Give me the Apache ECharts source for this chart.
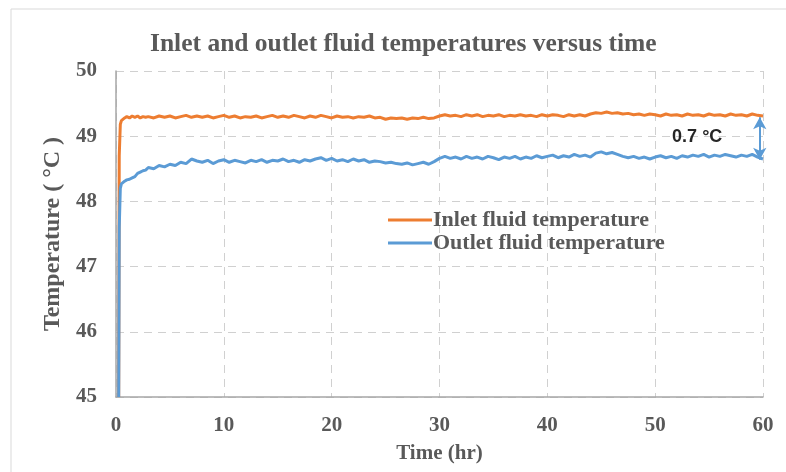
<!DOCTYPE html>
<html>
<head>
<meta charset="utf-8">
<script src="https://cdn.jsdelivr.net/npm/echarts@6/dist/echarts.min.js"></script>
<style>
html,body{margin:0;padding:0;background:#fff;}
#c{width:786px;height:472px;}
</style>
</head>
<body>
<div id="c"></div>
<script>
// ---- data ----
const titleText = 'Inlet and outlet fluid temperatures versus time';
const seriesNames = ['Inlet fluid temperature', 'Outlet fluid temperature'];
const xTicks = [0, 10, 20, 30, 40, 50, 60];
const yTicks = [45, 46, 47, 48, 49, 50];

const timeHr = [
  0.25, 0.3, 0.4, 0.5, 0.6, 0.8, 1.0, 1.25, 1.5, 1.75, 2.0, 2.25, 2.5, 2.75,
  3.0, 3.5, 4.0, 4.5, 5.0, 5.5, 6.0, 6.5, 7.0, 7.5,
  8.0, 8.5, 9.0, 9.5, 10.0, 10.5, 11.0, 11.5, 12.0, 12.5,
  13.0, 13.5, 14.0, 14.5, 15.0, 15.5, 16.0, 16.5, 17.0, 17.5,
  18.0, 18.5, 19.0, 19.5, 20.0, 20.5, 21.0, 21.5, 22.0, 22.5,
  23.0, 23.5, 24.0, 24.5, 25.0, 25.5, 26.0, 26.5, 27.0, 27.5,
  28.0, 28.5, 29.0, 29.5, 30.0, 30.5, 31.0, 31.5, 32.0, 32.5,
  33.0, 33.5, 34.0, 34.5, 35.0, 35.5, 36.0, 36.5, 37.0, 37.5,
  38.0, 38.5, 39.0, 39.5, 40.0, 40.5, 41.0, 41.5, 42.0, 42.5,
  43.0, 43.5, 44.0, 44.5, 45.0, 45.5, 46.0, 46.5, 47.0, 47.5,
  48.0, 48.5, 49.0, 49.5, 50.0, 50.5, 51.0, 51.5, 52.0, 52.5,
  53.0, 53.5, 54.0, 54.5, 55.0, 55.5, 56.0, 56.5, 57.0, 57.5,
  58.0, 58.5, 59.0, 59.5, 60.0
];

const inletTemp = [
  45.0, 48.7, 49.18, 49.24, 49.26, 49.28, 49.30, 49.28, 49.31, 49.29, 49.31, 49.28, 49.30, 49.29,
  49.30, 49.28, 49.31, 49.29, 49.31, 49.28, 49.30, 49.32, 49.29, 49.31,
  49.29, 49.31, 49.28, 49.30, 49.32, 49.29, 49.31, 49.28, 49.30, 49.29,
  49.31, 49.28, 49.30, 49.32, 49.29, 49.31, 49.29, 49.32, 49.30, 49.28,
  49.31, 49.29, 49.32, 49.30, 49.28, 49.31, 49.29, 49.30, 49.28, 49.30,
  49.29, 49.31, 49.28, 49.29, 49.26, 49.28, 49.27, 49.28, 49.26, 49.28,
  49.27, 49.29, 49.27, 49.28, 49.31, 49.33, 49.31, 49.32, 49.30, 49.33,
  49.31, 49.33, 49.30, 49.32, 49.31, 49.33, 49.30, 49.32, 49.31, 49.33,
  49.31, 49.32, 49.30, 49.33, 49.31, 49.33, 49.32, 49.30, 49.33, 49.31,
  49.33, 49.31, 49.34, 49.36, 49.35, 49.37, 49.35, 49.36, 49.34, 49.35,
  49.33, 49.34, 49.32, 49.34, 49.33, 49.31, 49.34, 49.32, 49.33, 49.31,
  49.34, 49.32, 49.33, 49.31, 49.34, 49.32, 49.33, 49.31, 49.34, 49.32,
  49.33, 49.31, 49.34, 49.32, 49.31
];

const outletTemp = [
  45.0, 47.6, 48.20, 48.27, 48.30, 48.31, 48.33, 48.34, 48.36, 48.38, 48.43, 48.45, 48.47, 48.48,
  48.52, 48.50, 48.55, 48.53, 48.57, 48.55, 48.60, 48.58, 48.65, 48.62,
  48.60, 48.63, 48.58, 48.62, 48.64, 48.60, 48.63, 48.61, 48.59, 48.63,
  48.61, 48.64, 48.60, 48.63, 48.62, 48.65, 48.61, 48.63, 48.60, 48.64,
  48.62, 48.65, 48.67, 48.63, 48.66, 48.62, 48.64, 48.61, 48.65, 48.62,
  48.64, 48.60, 48.62, 48.61, 48.59, 48.60, 48.58, 48.57, 48.59, 48.56,
  48.58, 48.60, 48.57, 48.61, 48.66, 48.69, 48.66, 48.68, 48.65, 48.69,
  48.66, 48.68, 48.65, 48.69, 48.67, 48.64, 48.68, 48.66, 48.69, 48.65,
  48.68, 48.66, 48.70, 48.67, 48.69, 48.71, 48.67, 48.70, 48.68, 48.72,
  48.69, 48.71, 48.68, 48.74, 48.76, 48.73, 48.75, 48.72, 48.69, 48.67,
  48.69, 48.66, 48.68, 48.65, 48.68, 48.70, 48.67, 48.69, 48.66, 48.70,
  48.68, 48.71, 48.69, 48.72, 48.68, 48.71, 48.69, 48.72, 48.70, 48.68,
  48.71, 48.69, 48.72, 48.68, 48.65
];

// annotation (difference arrow and label)
const diffArrowTime = 59.7;
const diffArrowRange = [49.29, 48.64];
const diffLabelText = '0.7 °C';
const diffLabelPos = [53.9, 48.99];

// ---- chart ----
const chart = echarts.init(document.getElementById('c'), null, {renderer: 'canvas'});

const serif = '"Liberation Serif", "Times New Roman", serif';
const textGray = '#595959';

function pairs(xs, ys) { return xs.map((x, i) => [x, ys[i]]); }

const option = {
  backgroundColor: '#ffffff',
  animation: false,
  title: {
    text: titleText,
    left: 145,
    top: 26,
    textStyle: {fontFamily: serif, fontWeight: 'bold', fontSize: 25.5, color: textGray}
  },
  legend: {
    orient: 'vertical',
    left: 383,
    top: 204,
    itemWidth: 44,
    itemHeight: 3,
    itemGap: 1,
    icon: 'rect',
    textStyle: {fontFamily: serif, fontWeight: 'bold', fontSize: 22, color: textGray, padding: [0, 0, 0, -4]},
    data: seriesNames
  },
  graphic: [{
    type: 'rect',
    shape: {x: 11, y: 9, width: 900, height: 600},
    style: {fill: 'none', stroke: '#D9D9D9', lineWidth: 1},
    silent: true,
    z: -10
  }],
  grid: {left: 116, right: 23, top: 71, bottom: 75, containLabel: false},
  xAxis: {
    type: 'value',
    min: xTicks[0],
    max: xTicks[xTicks.length - 1],
    interval: 10,
    name: 'Time (hr)',
    nameLocation: 'middle',
    nameGap: 46,
    nameTextStyle: {fontFamily: serif, fontWeight: 'bold', fontSize: 21, color: textGray},
    axisLine: {show: true, lineStyle: {color: '#A6A6A6', width: 1.5}},
    axisTick: {show: false},
    axisLabel: {fontFamily: serif, fontWeight: 'bold', fontSize: 21, color: textGray, margin: 18},
    splitLine: {show: true, lineStyle: {color: '#D0D0D0', type: [8, 6], width: 1}}
  },
  yAxis: {
    type: 'value',
    min: yTicks[0],
    max: yTicks[yTicks.length - 1],
    interval: 1,
    name: 'Temperature ( °C )',
    nameLocation: 'middle',
    nameGap: 49,
    nameTextStyle: {fontFamily: serif, fontWeight: 'bold', fontSize: 24, color: textGray},
    axisLine: {show: true, lineStyle: {color: '#A6A6A6', width: 1.5}},
    axisTick: {show: false},
    axisLabel: {fontFamily: serif, fontWeight: 'bold', fontSize: 21, color: textGray, margin: 19},
    splitLine: {show: true, lineStyle: {color: '#D0D0D0', type: [8, 6], width: 1}}
  },
  series: [
    {
      name: seriesNames[0],
      type: 'line',
      data: pairs(timeHr, inletTemp),
      showSymbol: false,
      symbol: 'none',
      lineStyle: {color: '#ED7D31', width: 3},
      itemStyle: {color: '#ED7D31'},
      z: 2
    },
    {
      name: seriesNames[1],
      type: 'line',
      data: pairs(timeHr, outletTemp),
      showSymbol: false,
      symbol: 'none',
      lineStyle: {color: '#5B9BD5', width: 3},
      itemStyle: {color: '#5B9BD5'},
      z: 3,
      markLine: {
        silent: true,
        symbol: ['arrow', 'arrow'],
        symbolSize: [10, 12],
        lineStyle: {color: '#5B9BD5', width: 2, type: 'solid'},
        label: {show: false},
        data: [[{coord: [diffArrowTime, diffArrowRange[0]]}, {coord: [diffArrowTime, diffArrowRange[1]]}]]
      },
      markPoint: {
        silent: true,
        symbol: 'circle',
        symbolSize: 0,
        label: {
          show: true,
          formatter: diffLabelText,
          fontFamily: '"Liberation Sans", Arial, sans-serif',
          fontWeight: 'bold',
          fontSize: 18,
          color: '#262626'
        },
        data: [{coord: diffLabelPos}]
      }
    }
  ]
};

chart.setOption(option);
</script>
</body>
</html>
